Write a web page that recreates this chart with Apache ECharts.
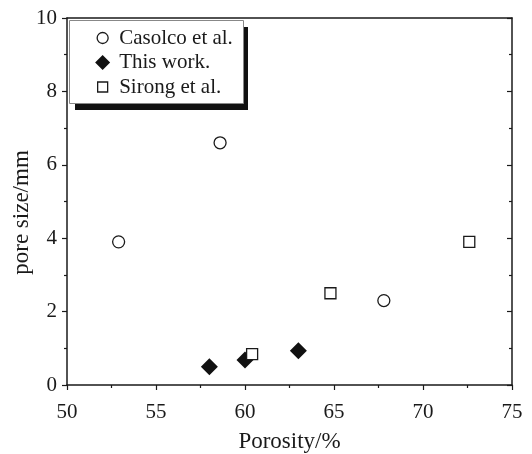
<!DOCTYPE html>
<html>
<head>
<meta charset="utf-8">
<script src="https://cdn.jsdelivr.net/npm/echarts@6/dist/echarts.min.js"></script>
<style>
	html, body { margin: 0; padding: 0; background: #fff; }
	#chart { width: 532px; height: 454px; }
</style>
</head>
<body>
<div id="chart"></div>
<script>
var font = '"Liberation Serif", "DejaVu Serif", serif';
var ink = '#1a1a1a';

// values: [porosity %, pore size mm]
var casolco = [[52.9, 3.9], [58.6, 6.6], [67.8, 2.3]];
var thisWork = [[58.0, 0.5], [60.0, 0.68], [63.0, 0.93]];
var sirong = [[60.4, 0.84], [64.8, 2.5], [72.6, 3.9]];

var seriesNames = ['Casolco et al.', 'This work.', 'Sirong et al.'];
var xTitle = 'Porosity/%';
var yTitle = 'pore size/mm';

// legend icons padded inside a 15x15 frame so they come out smaller than the diamond
var iconCircle = 'path://M0,0L0,0M15,15L15,15M2,7.5A5.5,5.5,0,1,1,13,7.5A5.5,5.5,0,1,1,2,7.5Z';
var iconSquare = 'path://M0,0L0,0M15,15L15,15M2.5,2.5L12.5,2.5L12.5,12.5L2.5,12.5Z';

function _merge(a, b) {
	Object.keys(b).forEach(function(k) {
		if (a[k] && typeof a[k] === 'object' && !Array.isArray(a[k]) && typeof b[k] === 'object') {
			a[k] = _merge(a[k], b[k]);
		} else {
			a[k] = b[k];
		}
	});
	return a;
}

function axisBase() {
	return {
		type: 'value',
		axisLine: { show: true, onZero: false, lineStyle: { color: ink, width: 1.5 } },
		splitLine: { show: false },
		axisTick: { show: true, inside: true, length: 5, lineStyle: { color: ink, width: 1.2 } },
		minorTick: { show: true, splitNumber: 2, length: 3, lineStyle: { color: ink, width: 1.2 } },
		axisLabel: { fontFamily: font, fontSize: 21, color: ink }
	};
}

var xBottom = _merge(axisBase(), {
	min: 50, max: 75, interval: 5, position: 'bottom',
	axisTick: { inside: false, length: 5 },
	axisLabel: { margin: 17 },
	name: xTitle, nameLocation: 'middle', nameGap: 45, nameMoveOverlap: false,
	nameTextStyle: { fontFamily: font, fontSize: 23, color: ink }
});
var xTop = _merge(axisBase(), {
	min: 50, max: 75, interval: 5, position: 'top',
	axisTick: { show: false }, minorTick: { show: false }, axisLabel: { show: false }
});
var yLeft = _merge(axisBase(), {
	min: 0, max: 10, interval: 2, position: 'left',
	axisTick: { inside: false, length: 5 },
	axisLabel: { margin: 10 },
	name: yTitle, nameLocation: 'middle', nameGap: 34, nameMoveOverlap: false,
	// extra right padding nudges the rotated title a little lower, as in the figure
	nameTextStyle: { fontFamily: font, fontSize: 23, color: ink, padding: [0, 22, 0, 0] }
});
var yRight = _merge(axisBase(), {
	min: 0, max: 10, interval: 2, position: 'right',
	axisLabel: { show: false }
});

var chart = echarts.init(document.getElementById('chart'), null, { renderer: 'canvas' });
chart.setOption({
	backgroundColor: '#fff',
	animation: false,
	grid: { left: 67, right: 20, top: 18, bottom: 69, containLabel: false, outerBoundsMode: 'none' },
	xAxis: [xBottom, xTop],
	yAxis: [yLeft, yRight],
	legend: {
		orient: 'vertical',
		left: 94.5,
		top: 27.5,
		padding: 0,
		itemGap: 3.5,
		itemWidth: 15,
		itemHeight: 15,
		z: 10,
		textStyle: { fontFamily: font, fontSize: 21, lineHeight: 21, color: ink, padding: [0, 0, 0, 4] },
		data: [
			{ name: seriesNames[0], icon: iconCircle, itemStyle: { color: '#fff', borderColor: ink, borderWidth: 1.3 } },
			{ name: seriesNames[1], icon: 'diamond', itemStyle: { color: '#111', opacity: 1 } },
			{ name: seriesNames[2], icon: iconSquare, itemStyle: { color: '#fff', borderColor: ink, borderWidth: 1.3 } }
		]
	},
	graphic: [
		{ type: 'rect', z: 1, shape: { x: 75, y: 27, width: 173, height: 83 }, style: { fill: '#111' } },
		{ type: 'rect', z: 2, shape: { x: 69.5, y: 20.5, width: 174, height: 83 }, style: { fill: '#fff', stroke: '#888', lineWidth: 1 } }
	],
	series: [
		{
			name: seriesNames[0], type: 'scatter', data: casolco,
			symbol: 'circle', symbolSize: 12,
			itemStyle: { color: '#fff', borderColor: ink, borderWidth: 1.3, opacity: 1 }
		},
		{
			name: seriesNames[1], type: 'scatter', data: thisWork,
			symbol: 'diamond', symbolSize: 17,
			itemStyle: { color: '#111', opacity: 1 }
		},
		{
			name: seriesNames[2], type: 'scatter', data: sirong,
			symbol: 'rect', symbolSize: 11,
			itemStyle: { color: '#fff', borderColor: ink, borderWidth: 1.3, opacity: 1 }
		}
	]
});
</script>
</body>
</html>
